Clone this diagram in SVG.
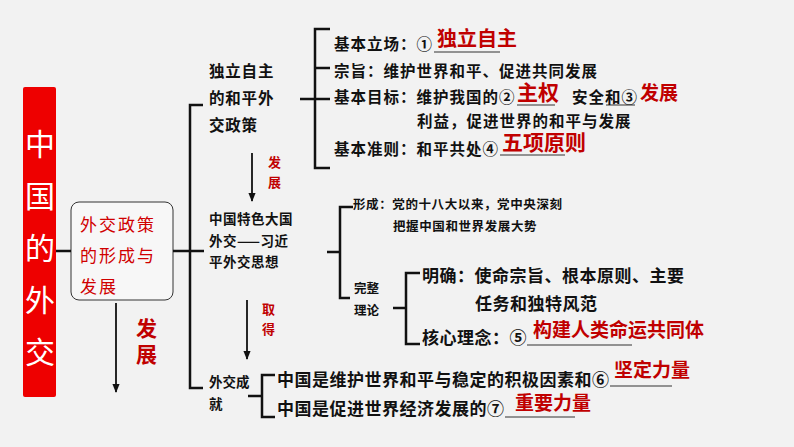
<svg xmlns="http://www.w3.org/2000/svg" width="794" height="447" viewBox="0 0 794 447">
<style>
.k{font-family:"Noto Sans CJK SC","Noto Sans",sans-serif;font-weight:bold;fill:#111}
.r{font-family:"Noto Sans CJK SC",sans-serif;font-weight:bold;fill:#c00000}
.w{font-family:"Noto Sans CJK SC",serif;fill:#fff}
.ln{stroke:#111;stroke-width:2.5;fill:none}
.u{stroke:#333;stroke-width:1.2}
</style>
<defs><marker id="a" viewBox="0 0 10 10" refX="9" refY="5" markerWidth="5" markerHeight="5" orient="auto"><path d="M0,1L10,5L0,9z" fill="#111"/></marker></defs>
<rect width="794" height="447" fill="#f2f2f2"/>
<g id="title"><rect x="23" y="87" width="33" height="310" rx="2" fill="#ee0000"/>
<text class="w" font-size="30" text-anchor="middle"><tspan x="40" y="155">中</tspan><tspan x="40" y="207">国</tspan><tspan x="40" y="259">的</tspan><tspan x="40" y="311">外</tspan><tspan x="40" y="363">交</tspan></text></g>
<g id="box"><rect x="71" y="202" width="102" height="98" rx="8" fill="#f7f7f7" stroke="#333" stroke-width="1"/>
<text font-family="Noto Sans CJK SC,serif" font-size="17" letter-spacing="2" fill="#d00000"><tspan x="80" y="231">外交政策</tspan><tspan x="80" y="262">的形成与</tspan><tspan x="80" y="293">发展</tspan></text></g>
<g id="connectors">
<path class="ln" stroke-width="1.5" d="M56,251H71M173,251H204"/>
<line x1="116" y1="303" x2="116" y2="392" stroke="#111" stroke-width="1.8" marker-end="url(#a)"/>
<path class="ln" d="M203,105H190V388H203"/>
<path class="ln" d="M300,99H330M330,29H315V168H330M315,68H330"/>
<line x1="252" y1="153" x2="252" y2="201" stroke="#111" stroke-width="1.8" marker-end="url(#a)"/>
<line x1="247" y1="300" x2="247" y2="359" stroke="#111" stroke-width="1.8" marker-end="url(#a)"/>
<path class="ln" d="M327,252H340M353,207H340V298H350"/>
<path class="ln" d="M393,308H406M420,273H406V344H420"/>
<path class="ln" d="M248,396H262M275,375H262V417H275"/>
<path class="u" d="M434,52H500M517,105H555M606,105H635M500,155H565M527,345H632M610,386H672M505,417H575"/>
</g>
<g id="n1"><text class="k" font-size="15.5" letter-spacing="0.8"><tspan x="209" y="77">独立自主</tspan><tspan x="209" y="104">的和平外</tspan><tspan x="209" y="131">交政策</tspan></text></g>
<g id="n1d">
<text class="k" x="334" y="50" font-size="15.5" letter-spacing="1">基本立场：①</text><text class="r" x="437" y="46" font-size="20">独立自主</text>
<text class="k" x="334" y="77" font-size="15.5" letter-spacing="1">宗旨：维护世界和平、促进共同发展</text>
<text class="k" x="334" y="103" font-size="15.5" letter-spacing="1">基本目标：维护我国的②</text><text class="r" x="517" y="100" font-size="21">主权</text>
<text class="k" x="572" y="103" font-size="15.5" letter-spacing="1">安全和③</text><text class="r" x="640" y="100" font-size="19">发展</text>
<text class="k" x="417" y="127" font-size="15.5" letter-spacing="1">利益，促进世界的和平与发展</text>
<text class="k" x="334" y="155" font-size="15.5" letter-spacing="1">基本准则：和平共处④</text><text class="r" x="502" y="150" font-size="21">五项原则</text></g>
<g id="lbl"><text class="r" font-size="13"><tspan x="268" y="167">发</tspan><tspan x="268" y="187">展</tspan><tspan x="262" y="314">取</tspan><tspan x="262" y="334">得</tspan></text>
<text class="r" font-size="21"><tspan x="136" y="336">发</tspan><tspan x="136" y="362">展</tspan></text></g>
<g id="n2"><text class="k" font-size="13.5" letter-spacing="0.5"><tspan x="209" y="224">中国特色大国</tspan><tspan x="209" y="246">外交——习近</tspan><tspan x="209" y="267">平外交思想</tspan></text>
<text class="k" font-size="12.5" letter-spacing="0.6"><tspan x="353" y="209">形成：党的十八大以来，党中央深刻</tspan><tspan x="393" y="231">把握中国和世界发展大势</tspan></text>
<text class="k" font-size="12.5"><tspan x="354" y="293">完整</tspan><tspan x="354" y="315">理论</tspan></text>
<text class="k" font-size="17" letter-spacing="0.5"><tspan x="422" y="282">明确：使命宗旨、根本原则、主要</tspan><tspan x="475" y="310">任务和独特风范</tspan><tspan x="422" y="344">核心理念：⑤</tspan></text>
<text class="r" x="533" y="337" font-size="19">构建人类命运共同体</text></g>
<g id="n3"><text class="k" font-size="13.5"><tspan x="209" y="387">外交成</tspan><tspan x="209" y="409">就</tspan></text>
<text class="k" font-size="17" letter-spacing="0.5"><tspan x="277" y="386">中国是维护世界和平与稳定的积极因素和⑥</tspan><tspan x="277" y="415">中国是促进世界经济发展的⑦</tspan></text>
<text class="r" x="614" y="377" font-size="19">坚定力量</text><text class="r" x="515" y="410" font-size="19">重要力量</text></g>
</svg>
